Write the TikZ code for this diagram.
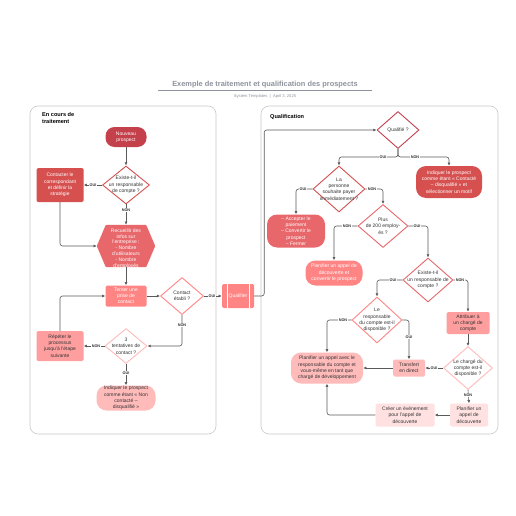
\documentclass[tikz,border=0pt]{standalone}
\usepackage{fontspec}
\setmainfont{Liberation Sans}
\usetikzlibrary{shapes.geometric,arrows.meta,calc}
\definecolor{ca}{HTML}{C4404A}
\definecolor{cb}{HTML}{D65050}
\definecolor{cc}{HTML}{E8676B}
\definecolor{cd}{HTML}{FF8585}
\definecolor{ce}{HTML}{FF9E9E}
\definecolor{cf}{HTML}{FFBABA}
\definecolor{cg}{HTML}{FFE1E1}
\definecolor{dk}{HTML}{333333}
\definecolor{linec}{HTML}{5A5A5A}
\definecolor{titlec}{HTML}{8E929C}
\definecolor{panelc}{HTML}{C9C9C9}
\begin{document}
\begin{tikzpicture}[x=1pt,y=-1pt,
  txt/.style={font=\fontsize{5}{6.3}\selectfont, align=center, inner sep=0pt, text=dk},
  box/.style={txt, rectangle, rounded corners=1.5pt},
  pill/.style={txt, rectangle, rounded corners=10pt},
  dia/.style={diamond, line width=0.9pt, fill=white, inner sep=0pt},
  lbl/.style={font=\fontsize{3.8}{4}\selectfont\bfseries, fill=white, inner sep=0.5pt, text=dk},
  con/.style={draw=linec, line width=0.6pt, rounded corners=2.5pt},
  arr/.style={con, -{Latex[length=3.2pt,width=3pt]}},
  panel/.style={draw=panelc, line width=0.6pt, rounded corners=8pt, fill=white},
  wt/.style={text=white}
]
\useasboundingbox[fill=white] (0,0) rectangle (516,516);

% title
\node[font=\fontsize{7.4}{8.5}\selectfont\bfseries, text=titlec] (title) at (265,85) {Exemple de traitement et qualification des prospects};
\draw[titlec, line width=0.8pt] (158,90.5) -- (372,90.5);
\node[font=\fontsize{4.1}{5}\selectfont, text=titlec] (sub) at (265,96) {System Templates \ | \ April 3, 2025};

% panels
\node[panel, minimum width=186pt, minimum height=328pt] (pL) at (123,270) {};
\node[panel, minimum width=237pt, minimum height=328pt] (pR) at (379.5,270) {};
\node[font=\fontsize{5.6}{6.8}\selectfont\bfseries, align=left, anchor=north west, inner sep=0pt] (ptL) at (42,112) {En cours de\\traitement};
\node[font=\fontsize{5.6}{6.8}\selectfont\bfseries, anchor=west, inner sep=0pt] (ptR) at (270,117) {Qualification};

% ---------- left panel ----------
\node[pill, rounded corners=9pt, fill=ca, wt, minimum width=41pt, minimum height=20pt] (np) at (126,137) {Nouveau\\prospect};
\node[dia, draw=cb, minimum width=47pt, minimum height=38pt] (d1) at (126,185) {};
\node[txt] (d1t) at (d1) {Existe-t-il\\un responsable\\de compte ?};
\node[box, fill=cb, wt, minimum width=47pt, minimum height=34pt] (c1) at (60,185) {Contacter le\\correspondant\\et définir la\\stratégie};
\node[minimum width=58pt, minimum height=42pt, inner sep=0pt] (hx) at (126,246) {};
\fill[cc, rounded corners=1pt] (hx.west) -- ($(hx.north west)+(9,0)$) -- ($(hx.north east)+(-9,0)$) -- (hx.east) -- ($(hx.south east)+(-9,0)$) -- ($(hx.south west)+(9,0)$) -- cycle;
\begin{scope}
\clip (hx.west) -- ($(hx.north west)+(9,0)$) -- ($(hx.north east)+(-9,0)$) -- (hx.east) -- ($(hx.south east)+(-9,0)$) -- ($(hx.south west)+(9,0)$) -- cycle;
\node[txt, wt, font=\fontsize{5}{5.8}\selectfont] (hxt) at (126,248.5) {Recueillir des\\infos sur\\l'entreprise :\\- Nombre\\d'utilisateurs\\- Nombre\\d'employés};
\end{scope}
\node[box, fill=cd, wt, minimum width=41pt, minimum height=21pt] (t1) at (126,296) {Tenter une\\prise de\\contact};
\node[dia, draw=cd, minimum width=43pt, minimum height=37pt] (d2) at (182,296) {};
\node[txt] (d2t) at (d2) {Contact\\établi ?};
\node[box, fill=cd, wt, minimum width=32pt, minimum height=24pt] (q1) at (238,296) {Qualifier};
\draw[white, line width=0.6pt] ($(q1.north west)+(5,0)$) -- ($(q1.south west)+(5,0)$);
\draw[white, line width=0.6pt] ($(q1.north east)+(-5,0)$) -- ($(q1.south east)+(-5,0)$);
\node[dia, draw=cf, minimum width=42pt, minimum height=35pt] (d3) at (126,346) {};
\node[txt] (d3t) at (d3) {3\\tentatives de\\contact ?};
\node[box, fill=ce, minimum width=47pt, minimum height=30pt] (r1) at (60,346) {Répéter le\\processus\\jusqu'à l'étape\\suivante};
\node[pill, fill=cf, minimum width=59pt, minimum height=25pt] (i1) at (126,398) {Indiquer le prospect\\comme étant « Non\\contacté –\\disqualifié »};

% left connectors
\draw[arr] (np.south) -- (d1.north);
\draw[arr] (d1.west) -- (c1.east);
\node[lbl] (l1) at (93,185) {OUI};
\draw[arr] (d1.south) -- (hx.north);
\node[lbl] (l2) at (126,210) {NON};
\draw[arr] (c1.south) |- (hx.west);
\draw[arr] (hx.south) -- (t1.north);
\draw[arr] (t1.east) -- (d2.west);
\draw[arr] (d2.east) -- (q1.west);
\node[lbl] (l3) at (212,296) {OUI};
\draw[arr] (d2.south) |- (d3.east);
\node[lbl] (l4) at (182,325) {NON};
\draw[arr] (d3.west) -- (r1.east);
\node[lbl] (l5) at (96,346) {NON};
\draw[arr] (r1.north) |- (t1.west);
\draw[arr] (d3.south) -- (i1.north);
\node[lbl] (l6) at (126,373) {OUI};

% ---------- right panel ----------
\node[dia, draw=ca, minimum width=42pt, minimum height=37pt] (d4) at (398,130) {};
\node[txt] (d4t) at (d4) {Qualifié ?};
\node[dia, draw=cb, minimum width=52pt, minimum height=46pt] (d5) at (339,189) {};
\node[txt] (d5t) at (d5) {La\\personne\\souhaite payer\\immédiatement ?};
\node[pill, fill=cb, wt, minimum width=66pt, minimum height=32pt] (i2) at (449,182) {Indiquer le prospect\\comme étant « Contacté\\– disqualifié » et\\sélectionner un motif};
\node[pill, fill=cc, wt, minimum width=58pt, minimum height=33pt] (a1) at (296,231) {– Accepter le\\paiement\\– Convertir le\\prospect\\– Fermer};
\node[dia, draw=cc, minimum width=50pt, minimum height=43pt] (d6) at (383,226) {};
\node[txt] (d6t) at (d6) {Plus\\de 200 employ-\\és ?};
\node[pill, fill=cd, wt, minimum width=57pt, minimum height=25pt] (p1) at (334,273) {Planifier un appel de\\découverte et\\convertir le prospect};
\node[dia, draw=cc, minimum width=50pt, minimum height=44pt] (d7) at (428,280) {};
\node[txt] (d7t) at (d7) {Existe-t-il\\un responsable de\\compte ?};
\node[dia, draw=cd, minimum width=50pt, minimum height=46pt] (d8) at (377,320) {};
\node[txt] (d8t) at (d8) {Le\\responsable\\du compte est-il\\disponible ?};
\node[box, fill=ce, minimum width=43pt, minimum height=22pt] (at1) at (468,323) {Attribuer à\\un chargé de\\compte};
\node[dia, draw=cf, minimum width=49pt, minimum height=43pt] (d9) at (468,368) {};
\node[txt] (d9t) at (d9) {Le chargé du\\compte est-il\\disponible ?};
\node[box, fill=cf, minimum width=32pt, minimum height=17pt] (tr) at (409,368) {Transfert\\en direct};
\node[pill, fill=cf, minimum width=72pt, minimum height=31pt] (p2) at (327,368) {Planifier un appel avec le\\responsable du compte et\\vous-même en tant que\\chargé de développement};
\node[box, fill=cg, minimum width=38pt, minimum height=23pt] (p3) at (469,415) {Planifier un\\appel de\\découverte};
\node[box, fill=cg, minimum width=59pt, minimum height=23pt] (cr) at (405,415) {Créer un événement\\pour l'appel de\\découverte};

% cross connector
\draw[arr] (q1.east) -- ++(10,0) |- (d4.west);

% right connectors
\draw[arr] (d4.south) -- ++(0,8) -| (d5.north);
\draw[arr] (d4.south) -- ++(0,8) -| (i2.north);
\node[lbl] (l7) at (383,157) {OUI};
\node[lbl] (l8) at (415,157) {NON};
\draw[arr] (d5.west) -| (a1.north);
\node[lbl] (l9) at (303,189) {OUI};
\draw[arr] (d5.east) -| (d6.north);
\node[lbl] (l10) at (372,189) {NON};
\draw[arr] (d6.west) -| (p1.north);
\node[lbl] (l11) at (347,226) {NON};
\draw[arr] (d6.east) -| (d7.north);
\node[lbl] (l12) at (417,226) {OUI};
\draw[arr] (d7.west) -| (d8.north);
\node[lbl] (l13) at (393,280) {OUI};
\draw[arr] (d7.east) -| (at1.north);
\node[lbl] (l14) at (460,280) {NON};
\draw[arr] (d8.west) -| (p2.north);
\node[lbl] (l15) at (343,320) {NON};
\draw[arr] (d8.east) -| (tr.north);
\node[lbl] (l16) at (409,337) {OUI};
\draw[arr] (at1.south) -- (d9.north);
\draw[arr] (d9.west) -- (tr.east);
\node[lbl] (l17) at (434,368) {OUI};
\draw[arr] (tr.west) -- (p2.east);
\draw[arr] (d9.south) -- (p3.north);
\node[lbl] (l18) at (468,395) {NON};
\draw[arr] (p3.west) -- (cr.east);
\draw[arr] (cr.west) -| (p2.south);
\end{tikzpicture}
\end{document}
